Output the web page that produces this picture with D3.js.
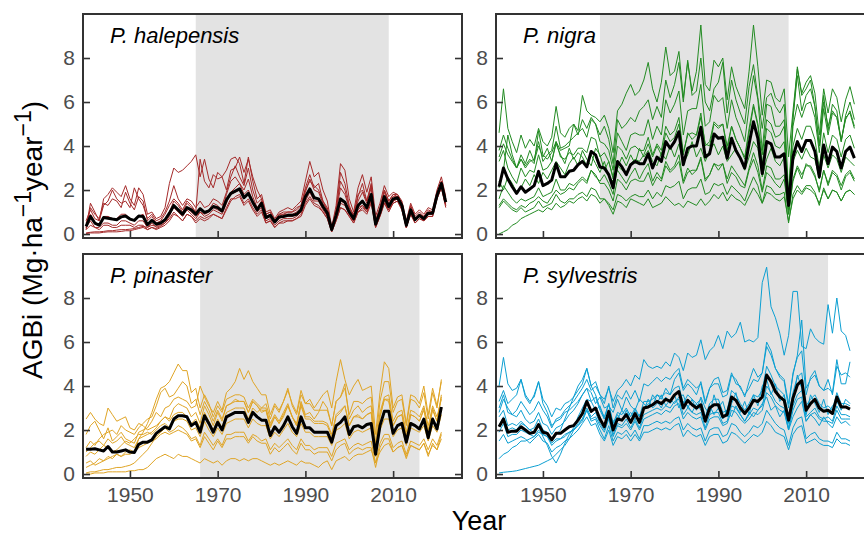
<!DOCTYPE html>
<html>
<head>
<meta charset="utf-8">
<script src="https://cdn.jsdelivr.net/npm/d3@7"></script>
<style>
  body { margin: 0; background: #fff; }
  text { font-family: "Liberation Sans", Arial, sans-serif; }
</style>
</head>
<body>
<div id="chart"></div>
<script>
// ---- data (AGBi, Mg/ha/year), one value per year ----
var halepensisStart = 1940;
var halepensisShade = [1965, 2009];
var halepensisMean = [
  0.35,0.8,0.5,0.4,0.75,0.72,0.68,0.65,0.78,0.82,
  0.68,0.62,0.82,0.8,0.42,0.62,0.45,0.5,0.65,0.95,
  1.3,1.1,0.9,1.2,1.1,0.9,1.15,0.98,1.05,1.25,
  1.2,1.05,1.55,1.85,1.95,2.05,1.65,1.85,1.45,1.1,
  1.4,0.75,0.85,0.55,0.78,0.8,0.85,0.85,0.9,1.1,
  1.7,2.05,1.65,1.6,1.25,0.95,0.2,0.85,1.6,1.45,
  1.0,0.7,1.3,1.5,1.2,1.8,0.45,1.0,1.7,1.25,
  1.6,1.65,1.3,0.4,1.1,0.65,0.85,0.7,0.95,0.95,
  1.75,2.3,1.45];
var halepensisSites = [
  [0.3,1.4,1.0,0.6,1.6,1.8,2.1,1.9,1.7,2.2, 1.6,1.3,2.1,1.8,0.9,1.0,0.7,0.8,1.2,2.3, 3.0,2.8,2.9,3.1,3.3,3.6,2.6,3.4,2.5,2.1, 2.8,2.6,2.9,3.4,3.5,3.2,2.3,3.5,2.4,1.6, 1.8,1.0,1.1,0.7,1.0,1.1,1.2,1.1,1.3,1.5, 2.4,3.3,2.6,2.8,2.0,1.5,0.3,1.3,3.2,2.9, 1.6,1.0,2.1,2.7,1.9,2.6,0.8,1.4,2.2,1.7, 1.9,1.8,1.5,0.6,1.4,0.9,1.1,0.9,1.2,1.1, 2.0,2.6,1.7],
  [0.2,1.2,0.9,0.7,1.4,1.3,1.6,1.5,1.2,1.9, 1.4,1.1,1.7,1.5,0.6,0.8,0.5,0.6,0.9,1.3, 1.6,1.4,1.1,1.5,1.3,1.0,3.4,2.4,2.1,2.7, 2.5,2.6,2.0,2.9,3.0,3.5,2.8,3.4,2.6,2.0, 1.6,0.9,1.0,0.6,0.9,0.9,1.0,1.0,1.2,1.3, 2.0,2.4,2.2,2.0,1.5,1.1,0.2,1.0,2.8,2.3, 1.3,0.8,1.7,2.3,1.5,2.3,0.6,1.2,2.0,1.5, 1.8,1.7,1.4,0.5,1.3,0.8,1.0,0.8,1.1,1.0, 1.9,2.4,1.6],
  [0.05,0.08,0.1,0.1,0.12,0.15,0.15,0.18,0.2,0.2, 0.22,0.25,0.3,0.35,0.3,0.4,0.35,0.45,0.6,0.9, 1.2,1.0,0.8,1.1,0.9,0.7,1.0,0.8,0.9,1.1, 1.0,0.9,1.4,1.9,2.1,2.3,1.8,2.0,1.5,1.1, 1.3,0.7,0.8,0.5,0.7,0.8,0.8,0.8,0.9,1.0, 1.6,2.1,1.7,1.6,1.2,0.9,0.2,0.8,1.5,1.4, 0.9,0.6,1.2,1.3,1.1,1.6,0.4,0.9,1.6,1.2, 1.5,1.6,1.2,0.3,1.0,0.6,0.8,0.6,0.9,0.9, 1.7,2.2,1.3],
  [0.02,0.05,0.05,0.05,0.08,0.1,0.1,0.1,0.12,0.15, 0.15,0.2,0.25,0.3,0.2,0.3,0.25,0.35,0.5,0.7, 1.0,0.8,0.6,0.9,0.8,0.6,0.8,0.7,0.8,0.9, 0.8,0.7,1.1,1.5,1.7,1.8,1.4,1.6,1.2,0.9, 1.1,0.5,0.6,0.3,0.5,0.5,0.6,0.6,0.7,0.8, 1.3,1.6,1.3,1.2,1.0,0.7,0.1,0.6,1.2,1.1, 0.8,0.5,1.0,1.1,0.9,1.4,0.3,0.8,1.4,1.0, 1.4,1.5,1.1,0.3,0.9,0.5,0.7,0.6,0.8,0.8, 1.6,2.1,1.2],
  [0.5,0.9,0.5,0.4,0.8,0.8,0.7,0.7,0.9,0.9, 0.7,0.6,0.8,0.9,0.4,0.6,0.4,0.5,0.6,1.0, 1.5,1.3,1.0,1.4,1.2,1.0,1.2,1.0,1.1,1.4, 1.3,1.1,1.8,2.4,2.6,2.3,2.0,2.5,1.7,1.2, 1.5,0.8,0.9,0.6,0.8,0.9,0.9,0.9,1.0,1.2, 1.9,2.5,2.0,1.9,1.4,1.1,0.3,1.0,2.1,1.8, 1.2,0.8,1.5,1.9,1.4,2.1,0.5,1.1,1.9,1.4, 1.7,1.7,1.4,0.5,1.2,0.7,0.9,0.8,1.0,1.0, 1.8,2.3,1.5],
  [0.3,0.6,0.3,0.3,0.5,0.5,0.4,0.4,0.6,0.6, 0.5,0.4,0.6,0.6,0.3,0.5,0.3,0.4,0.5,0.8, 1.3,1.1,0.9,1.2,1.0,0.8,1.0,0.9,1.0,1.2, 1.1,1.0,1.5,1.8,1.9,2.0,1.6,1.8,1.4,1.0, 1.2,0.6,0.7,0.4,0.6,0.7,0.7,0.7,0.8,1.0, 1.5,1.9,1.5,1.5,1.1,0.8,0.2,0.7,1.4,1.3, 0.9,0.6,1.1,1.3,1.0,1.6,0.4,0.9,1.5,1.1, 1.5,1.6,1.2,0.3,1.0,0.6,0.8,0.6,0.9,0.9, 1.7,2.2,1.4],
  [0.6,1.1,0.7,0.6,1.3,1.5,2.0,1.6,1.4,1.5, 1.2,2.1,1.6,1.3,0.7,0.9,0.6,0.7,1.0,1.5, 2.2,1.6,1.3,1.6,1.5,1.2,1.5,1.2,1.3,1.6, 1.5,1.3,1.9,2.6,3.1,2.6,2.2,3.0,2.0,1.4, 1.6,0.9,1.0,0.6,0.9,1.0,1.0,1.0,1.1,1.3, 2.1,2.7,2.1,2.3,1.5,1.2,0.3,1.1,2.4,2.0, 1.2,0.9,1.8,2.0,1.5,2.2,0.6,1.2,2.0,1.5, 1.8,1.8,1.4,0.5,1.2,0.7,0.9,0.7,1.0,1.0, 1.8,2.4,1.5],
  [0.2,0.4,0.3,0.2,0.4,0.4,0.3,0.3,0.4,0.4, 0.4,0.3,0.4,0.4,0.2,0.3,0.2,0.3,0.4,0.6, 0.9,0.8,0.6,0.9,0.8,0.5,0.7,0.6,0.7,0.9, 0.8,0.7,1.2,1.6,1.6,1.7,1.3,1.5,1.1,0.8, 1.0,0.5,0.6,0.3,0.5,0.6,0.6,0.6,0.7,0.9, 1.4,1.7,1.4,1.3,1.0,0.7,0.1,0.6,1.2,1.1, 0.8,0.5,1.0,1.2,1.0,1.5,0.3,0.8,1.4,1.1, 1.4,1.5,1.1,0.3,0.9,0.5,0.7,0.6,0.8,0.8, 1.6,2.1,1.3]
];

var nigraStart = 1940;
var nigraShade = [1963, 2006];
var nigraMean = [
  2.15,3.0,2.5,2.15,1.85,2.15,1.9,2.05,2.2,2.85,
  2.2,2.3,2.45,3.2,2.6,2.6,2.85,2.9,3.15,3.3,
  3.05,3.75,3.6,3.05,3.0,2.7,2.1,3.3,3.05,2.7,
  3.15,3.3,3.2,3.2,3.65,3.0,3.5,3.3,4.2,3.9,
  4.2,4.65,3.15,3.9,4.0,4.0,4.85,3.5,3.65,4.55,
  4.35,4.4,3.45,4.35,3.8,3.45,3.0,4.1,5.1,4.35,
  2.75,4.2,4.1,3.5,3.5,3.65,1.3,3.5,4.2,3.75,
  4.25,4.25,3.75,2.6,4.05,3.2,3.95,3.75,3.0,3.75,
  3.95,3.45];
var nigraSites = [
  [0.0,0.1,0.2,0.4,0.5,0.7,0.8,0.9,1.0,1.1, 1.0,1.2,1.1,1.4,1.2,1.3,1.5,1.4,1.6,1.7, 1.5,1.8,1.7,1.4,1.6,1.3,0.9,1.5,1.4,1.2, 1.6,1.5,1.4,1.3,1.6,1.2,1.3,1.4,1.7,1.5, 1.3,1.4,1.2,1.5,1.4,1.3,1.6,1.3,1.5,1.8, 1.6,1.9,1.5,1.8,1.6,1.5,1.3,1.7,2.1,1.8, 1.4,1.9,1.8,1.6,1.5,1.7,0.6,1.6,2.0,1.8, 2.1,2.0,1.8,1.4,2.0,1.6,2.0,1.9,1.5,1.9, 2.0,1.8],
  [4.6,6.6,4.8,4.2,3.7,4.5,3.9,4.3,4.0,4.8, 4.2,4.0,4.4,5.8,4.6,4.4,4.8,5.0,4.7,6.3, 5.6,5.4,5.3,5.1,5.4,4.8,3.7,5.6,5.9,6.4, 6.8,6.3,6.5,7.0,7.8,6.6,6.0,6.9,8.5,7.2, 7.4,8.3,6.2,7.8,6.5,7.4,9.5,6.8,6.5,7.9, 7.6,8.0,6.1,7.6,6.7,6.2,5.7,7.4,9.5,7.6, 5.4,7.0,6.9,6.2,6.0,6.6,3.5,5.6,7.5,6.4, 6.9,7.2,6.4,4.5,6.6,5.5,6.6,6.2,5.1,6.1, 6.7,5.9],
  [3.5,4.1,3.6,3.3,3.0,3.4,3.1,3.4,3.2,4.7, 3.6,3.4,3.7,4.2,3.8,3.9,4.0,5.0,4.5,5.2, 4.8,5.3,5.0,4.5,4.9,4.3,3.2,5.2,4.8,5.0, 5.3,5.1,5.6,5.8,6.1,5.2,5.8,5.3,7.0,6.2, 6.8,7.8,6.0,7.9,6.3,6.5,8.0,6.0,5.6,6.6, 6.9,7.8,5.5,7.0,6.1,5.5,5.0,6.7,7.7,6.2, 4.8,6.2,6.4,5.8,5.5,5.9,1.8,5.3,7.2,5.6, 6.3,6.6,5.8,4.0,6.0,4.9,5.6,5.3,4.3,5.2, 5.6,4.9],
  [3.3,3.8,3.0,2.6,2.3,3.0,2.6,2.9,2.8,3.6, 2.9,3.0,3.3,4.2,3.5,3.4,3.7,3.6,3.9,3.9, 3.7,4.4,4.3,3.5,3.7,3.3,2.6,4.0,3.8,3.4, 3.9,4.0,3.8,3.8,4.4,3.6,4.1,3.8,4.9,4.5, 4.7,5.3,3.7,4.5,4.6,4.5,5.5,4.0,4.2,5.1, 4.9,5.0,4.0,4.9,4.3,3.9,3.4,4.6,5.8,4.9, 3.2,4.8,4.6,4.0,3.9,4.2,1.5,4.0,4.8,4.3, 4.9,4.9,4.3,3.0,4.6,3.7,4.5,4.3,3.5,4.3, 4.5,3.9],
  [3.8,4.5,3.9,3.4,3.0,3.6,3.2,3.8,3.3,4.0, 3.5,3.9,3.3,4.1,3.6,3.2,3.9,3.4,3.7,3.5, 3.1,3.6,3.2,2.8,3.3,2.6,2.4,2.9,2.6,2.3, 2.7,3.0,2.5,2.9,3.2,2.4,2.8,2.5,3.3,2.9, 3.1,3.6,2.4,3.0,2.7,2.9,3.4,2.4,2.7,3.2, 2.9,3.2,2.3,2.8,2.6,2.2,2.1,2.9,3.4,2.8, 1.9,2.8,2.6,2.3,2.1,2.5,0.9,2.4,3.0,2.5, 3.2,3.0,2.6,2.0,2.9,2.2,2.8,2.6,2.0,2.6, 2.8,2.4],
  [1.6,2.2,1.9,1.6,1.4,1.6,1.5,1.6,1.7,2.1, 1.7,1.8,1.9,2.5,2.0,2.0,2.3,2.2,2.4,2.6, 2.4,2.9,2.7,2.3,2.3,2.0,1.5,2.5,2.3,2.0, 2.4,2.5,2.4,2.4,2.8,2.2,2.6,2.4,3.1,2.8, 3.0,3.3,2.3,2.8,2.9,2.9,3.5,2.5,2.7,3.2, 3.1,3.2,2.5,3.1,2.8,2.5,2.2,3.0,3.7,3.1, 2.0,3.1,3.0,2.5,2.5,2.7,0.9,2.5,3.1,2.7, 3.1,3.1,2.7,1.9,2.9,2.3,2.9,2.7,2.2,2.7, 2.9,2.5],
  [1.3,1.6,1.4,1.2,1.1,1.3,1.2,1.4,1.5,1.7, 1.5,1.4,1.7,2.0,1.8,1.9,2.1,2.0,2.3,2.5, 2.3,2.9,2.6,2.4,2.7,2.3,1.8,3.1,2.9,2.8, 3.2,3.4,3.3,3.6,4.1,3.5,4.0,3.6,4.6,4.2, 4.4,5.0,3.6,4.6,4.3,4.5,5.3,4.1,4.0,5.0, 4.8,5.0,3.8,4.9,4.3,3.9,3.5,4.8,5.9,5.0, 3.6,5.2,5.0,4.4,4.5,4.9,1.4,5.2,7.6,6.3, 6.6,7.0,5.8,4.0,6.3,4.7,5.9,5.6,4.2,5.4, 6.0,5.2],
  [2.1,2.9,4.5,3.6,3.0,3.4,3.0,3.3,3.4,4.2, 3.3,3.6,3.8,4.9,3.9,4.0,4.2,4.4,4.6,4.8, 4.4,5.2,5.0,4.2,4.1,3.8,2.9,4.6,4.2,3.8, 4.5,4.6,4.5,4.5,5.2,4.3,4.9,4.5,6.1,5.5, 5.9,6.5,4.5,5.6,5.7,5.7,6.8,4.9,5.1,6.3, 6.0,6.2,4.8,6.1,5.3,4.8,4.2,5.8,7.2,6.1, 3.8,5.9,5.8,4.9,4.9,5.2,1.6,4.9,5.9,5.3, 5.9,6.0,5.3,3.7,5.7,4.5,5.5,5.3,4.2,5.3, 5.5,4.8],
  [2.4,2.0,2.6,2.3,1.9,2.1,2.5,2.2,2.7,2.3, 2.8,2.5,2.9,3.3,3.0,2.7,3.2,3.5,3.1,3.8, 3.4,3.1,3.9,3.6,2.9,3.3,2.5,3.0,3.5,3.1, 3.6,3.2,3.9,3.5,3.8,3.3,3.1,3.7,3.4,4.0, 3.5,4.1,3.2,3.6,4.2,3.5,3.9,3.3,3.8,4.1, 3.6,4.0,3.3,3.6,3.9,3.4,2.9,3.5,4.2,3.9, 2.6,3.4,3.9,3.3,3.1,3.5,1.1,3.3,3.8,3.4, 3.9,3.5,3.4,2.5,3.6,3.0,3.6,3.4,2.8,3.5, 3.3,3.1],
  [1.2,1.5,1.3,1.1,1.0,1.2,1.0,1.1,1.2,1.5, 1.2,1.3,1.4,1.8,1.5,1.4,1.6,1.6,1.8,1.9, 1.7,2.1,2.0,1.6,1.6,1.4,1.1,1.8,1.7,1.5, 1.7,1.8,1.7,1.7,2.0,1.6,1.9,1.7,2.2,2.1, 2.2,2.4,1.6,2.0,2.1,2.1,2.5,1.8,1.9,2.3, 2.2,2.3,1.8,2.2,2.0,1.8,1.5,2.1,2.6,2.2, 1.4,2.2,2.1,1.8,1.8,1.9,0.5,1.8,2.2,1.9, 2.2,2.2,1.9,1.3,2.1,1.6,2.0,1.9,1.5,1.9, 2.0,1.8]
];

var pinasterStart = 1940;
var pinasterShade = [1966, 2016];
var pinasterMean = [
  1.13,1.13,1.15,1.1,1.05,1.25,1.0,1.0,1.05,1.1,
  1.0,0.98,1.35,1.45,1.45,1.55,1.85,2.0,2.15,2.05,
  2.5,2.65,2.65,2.6,2.2,2.35,1.9,2.65,2.3,1.9,
  2.35,2.0,2.6,2.7,2.8,2.8,2.8,2.35,2.8,2.6,
  2.45,2.45,1.75,2.15,1.9,2.2,2.6,2.15,1.85,2.6,
  2.1,2.1,1.9,1.9,1.9,1.9,1.45,2.2,2.35,2.6,
  1.8,2.15,2.2,2.1,2.25,2.3,0.9,2.2,2.85,2.85,
  1.85,2.2,2.3,1.45,2.3,2.2,2.05,2.5,1.65,2.5,
  2.05,3.05];
var pinasterSites = [
  [0.0,0.0,0.05,0.05,0.05,0.1,0.1,0.1,0.1,0.1, 0.15,0.15,0.2,0.2,0.3,0.5,0.7,0.8,0.9,0.8, 0.7,0.9,0.8,0.8,0.7,0.6,0.5,0.7,0.6,0.5, 0.6,0.4,0.6,0.7,0.7,0.6,0.7,0.6,0.7,0.7, 0.6,0.5,0.4,0.5,0.4,0.5,0.6,0.5,0.4,0.6, 0.5,0.5,0.4,0.3,0.5,0.6,0.2,0.6,0.7,0.8, 0.6,0.8,0.9,0.9,1.0,1.1,0.5,1.0,1.3,1.4, 1.0,1.2,1.3,0.8,1.3,1.2,1.1,1.4,0.9,1.3, 1.1,1.6],
  [0.05,0.1,0.1,0.15,0.2,0.2,0.25,0.3,0.3,0.35, 0.4,0.5,0.7,0.9,1.1,1.4,1.7,1.9,2.1,1.9, 2.0,2.2,2.1,1.9,1.6,1.7,1.3,1.9,1.6,1.3, 1.6,1.3,1.8,1.8,1.9,1.9,1.9,1.5,1.8,1.7, 1.5,1.6,1.1,1.4,1.2,1.4,1.6,1.3,1.1,1.6, 1.3,1.3,1.1,1.2,1.2,1.2,0.8,1.4,1.5,1.6, 1.1,1.3,1.4,1.3,1.4,1.5,0.5,1.4,1.8,1.8, 1.2,1.4,1.5,0.9,1.5,1.4,1.3,1.6,1.1,1.6, 1.3,1.9],
  [0.3,0.4,0.5,0.7,0.6,0.8,0.7,0.9,0.8,1.0, 1.1,1.0,1.6,1.9,2.3,2.8,3.4,3.9,4.0,4.2, 4.6,5.0,4.7,4.7,3.7,3.9,3.0,3.6,3.2,2.6, 3.1,2.8,3.4,3.5,3.6,3.6,3.5,3.0,3.4,3.2, 3.0,3.0,2.3,2.7,2.4,2.8,3.2,2.6,2.3,3.2, 2.6,2.6,2.4,2.4,2.4,2.3,1.8,2.7,2.9,3.1, 2.2,2.6,2.7,2.5,2.7,2.8,1.1,2.6,3.4,3.3, 2.2,2.6,2.7,1.7,2.7,2.6,2.4,2.9,1.9,2.9, 2.4,3.5],
  [2.5,2.8,2.5,2.3,2.2,3.0,2.7,2.4,2.5,2.6, 2.1,2.0,2.3,2.2,2.0,2.1,2.2,2.4,2.6,2.5, 3.0,3.2,3.1,3.0,2.6,2.8,2.3,3.1,2.7,2.2, 2.8,2.4,3.1,3.2,3.4,3.3,3.3,2.8,3.3,3.1, 2.9,2.9,2.1,2.6,2.3,2.6,3.1,2.6,2.2,3.1, 2.5,2.5,2.3,2.3,2.3,2.2,1.7,2.6,2.8,3.1, 2.2,2.6,2.6,2.5,2.7,2.8,1.1,2.6,3.4,3.4, 2.2,2.6,2.7,1.7,2.7,2.6,2.4,3.0,2.0,3.0, 2.4,3.6],
  [1.8,2.2,2.4,2.0,1.6,2.1,1.5,1.7,1.9,1.6, 1.5,1.4,1.9,2.0,2.1,2.4,2.8,2.6,3.0,3.1, 3.4,3.5,3.4,3.3,3.0,3.1,4.0,3.5,3.1,2.8, 3.3,2.9,3.7,3.9,4.2,4.8,4.3,4.7,4.2,3.9, 3.6,3.6,2.7,3.2,2.9,3.3,3.8,3.2,2.8,3.8, 3.2,3.2,2.9,2.9,2.9,2.9,2.2,3.3,3.5,3.9, 2.7,3.3,3.3,3.2,3.4,3.5,1.4,3.3,4.2,4.2, 2.8,3.3,3.4,2.2,3.4,3.3,3.0,3.7,2.5,3.7, 3.0,4.3],
  [1.0,1.2,1.4,1.5,1.3,1.6,1.4,1.5,1.7,1.4, 1.3,1.2,1.6,1.7,1.8,1.9,2.1,2.4,2.6,2.4, 2.7,2.8,2.8,2.6,2.3,2.5,2.1,2.8,2.4,2.0, 2.5,2.1,2.8,2.9,3.0,3.0,3.0,2.5,3.0,2.8, 3.0,3.2,2.5,3.1,2.8,3.3,3.9,3.1,2.7,3.6, 3.2,3.4,3.0,3.3,3.6,3.8,3.0,4.2,5.2,4.3, 3.6,4.0,4.3,3.8,3.9,4.0,1.8,3.7,5.1,4.8, 3.0,3.5,3.6,2.3,3.6,3.5,3.2,4.0,2.7,3.9, 3.1,4.2],
  [0.8,1.0,0.9,1.1,1.3,1.2,1.0,1.1,1.3,1.5, 1.4,1.6,1.8,1.8,1.9,1.8,2.0,2.2,2.3,2.1, 2.4,2.5,2.5,2.4,2.0,2.1,1.7,2.4,2.0,1.7, 2.1,1.8,2.3,2.4,2.5,2.5,2.5,2.1,2.5,2.3, 2.2,2.2,1.6,1.9,1.7,2.0,2.3,1.9,1.7,2.3, 1.9,1.9,1.7,1.7,1.7,1.7,1.3,2.0,2.1,2.3, 1.6,1.9,2.0,1.9,2.0,2.1,0.8,2.0,2.5,2.5, 1.7,2.0,2.1,1.3,2.1,2.0,1.9,2.2,1.5,2.2, 1.9,2.7],
  [1.2,1.5,1.3,1.6,1.8,1.9,2.0,1.8,2.2,2.0, 1.9,1.8,2.1,2.3,2.5,2.6,3.1,3.7,3.9,3.5, 3.6,3.9,4.2,4.0,3.2,3.4,2.7,3.3,2.9,2.4, 2.9,2.5,3.1,3.2,3.3,3.3,3.3,2.8,3.3,3.1, 2.8,2.9,2.2,2.6,2.3,2.7,3.1,2.6,2.2,3.3, 2.7,2.8,2.5,2.8,3.3,3.0,2.2,3.3,3.5,4.1, 2.5,2.9,3.1,2.8,3.0,3.1,1.2,2.8,3.5,3.6, 2.4,2.8,2.9,1.9,2.9,2.8,2.6,3.1,2.2,3.1, 2.6,3.4],
  [0.5,0.6,0.4,0.5,0.6,0.7,0.8,0.9,0.8,0.9, 0.9,1.0,1.2,1.3,1.4,1.5,1.6,1.8,1.9,1.8, 1.9,2.0,1.9,1.8,1.5,1.6,1.2,1.7,1.4,1.1, 1.5,1.2,1.6,1.6,1.7,1.7,1.7,1.4,1.7,1.5, 1.4,1.4,0.9,1.2,1.0,1.2,1.4,1.1,0.9,1.4, 1.1,1.1,0.9,1.0,1.0,1.0,0.6,1.1,1.3,1.4, 0.9,1.1,1.2,1.1,1.2,1.2,0.3,1.2,1.6,1.6, 1.0,1.2,1.3,0.7,1.3,1.2,1.1,1.4,0.8,1.4, 1.1,1.8]
];

var sylvestrisStart = 1940;
var sylvestrisShade = [1963, 2015];
var sylvestrisMean = [
  2.15,2.5,1.9,1.95,1.95,2.15,2.0,1.85,1.9,2.25,
  1.9,1.85,1.55,1.85,1.85,2.0,2.15,2.2,2.45,2.75,
  3.3,2.85,3.0,2.5,2.15,2.85,2.0,2.5,2.45,2.7,
  2.35,2.75,2.35,3.0,3.05,3.15,3.3,3.2,3.4,3.3,
  3.6,3.75,3.0,3.35,3.15,3.0,3.15,2.4,3.0,3.15,
  3.15,2.6,2.7,3.5,3.35,3.0,2.75,3.0,3.35,3.3,
  3.5,4.5,4.2,3.75,3.5,3.35,2.45,3.45,4.05,4.25,
  2.9,3.2,3.4,3.0,2.85,2.9,2.75,3.5,3.05,3.05,
  2.95];
var sylvestrisSites = [
  [2.8,3.4,3.0,2.7,2.9,3.3,3.0,2.7,2.9,3.3, 2.9,2.6,2.1,2.5,2.6,2.9,3.1,3.3,3.6,3.9, 4.3,3.8,4.0,3.6,3.4,3.9,3.3,3.8,4.0,4.3, 4.0,4.5,4.3,5.2,4.9,4.8,4.9,4.8,5.1,4.9, 5.5,5.3,4.7,5.5,5.3,5.4,6.1,5.2,5.6,5.8, 6.3,5.7,6.5,6.2,6.4,6.9,6.0,6.1,6.0,6.2, 8.7,9.4,7.6,7.1,6.4,5.4,6.3,8.3,8.3,5.8, 5.7,6.6,6.2,6.0,5.9,7.7,6.4,8.0,6.5,6.3, 5.6],
  [4.0,5.3,4.1,3.8,3.9,4.3,3.6,3.3,3.5,4.2, 3.4,3.1,2.6,3.0,2.9,3.2,3.3,3.5,3.8,4.1, 4.8,4.0,4.2,3.6,3.2,4.0,3.0,3.6,3.4,3.8, 3.4,3.8,3.3,4.1,4.0,4.2,4.4,4.2,4.4,4.3, 4.6,4.8,3.9,4.3,4.1,3.9,4.1,3.2,3.9,4.1, 4.1,3.5,3.6,4.5,4.3,3.9,3.6,3.9,4.3,4.2, 4.6,5.8,5.4,4.8,4.5,4.3,3.2,4.5,5.4,7.0, 3.9,4.3,4.5,4.0,3.8,3.9,3.7,5.2,4.1,4.1, 5.1],
  [0.05,0.08,0.1,0.12,0.15,0.2,0.25,0.3,0.35,0.4, 0.5,0.6,0.7,0.9,1.1,1.3,1.6,2.0,2.3,2.5, 3.0,2.6,2.8,2.3,2.0,2.6,1.8,2.3,2.2,2.5, 2.1,2.5,2.1,2.7,2.8,2.9,3.0,2.9,3.1,3.0, 3.3,3.4,2.7,3.0,2.8,2.7,2.8,2.1,2.7,2.8, 2.8,2.3,2.4,3.1,3.0,2.7,2.4,2.7,3.0,2.9, 3.1,4.0,3.7,3.3,3.1,3.0,2.1,3.1,3.6,3.8, 2.6,2.8,3.0,2.6,2.5,2.6,2.4,3.1,2.7,2.7, 2.6],
  [0.7,0.9,1.0,1.2,1.3,1.5,1.5,1.6,1.7,1.9, 1.8,1.7,1.4,1.6,1.6,1.7,1.9,2.0,2.2,2.4, 2.9,2.5,2.6,2.2,1.9,2.5,1.7,2.2,2.1,2.3, 2.0,2.4,2.0,2.5,2.6,2.7,2.8,2.7,2.9,2.8, 3.1,3.2,2.5,2.8,2.6,2.5,2.6,2.0,2.5,2.6, 2.6,2.2,2.3,2.9,2.8,2.5,2.3,2.5,2.8,2.7, 2.9,3.7,3.5,3.1,2.9,2.8,2.0,2.9,3.4,3.5, 2.4,2.7,2.8,2.5,2.4,2.4,2.3,2.9,2.5,2.5, 2.5],
  [2.6,2.9,2.2,2.3,2.2,2.4,2.2,2.0,1.9,2.2, 1.7,1.3,0.8,0.5,0.9,1.4,1.8,2.1,2.6,3.0, 3.4,3.3,2.9,3.1,2.5,2.7,2.4,2.5,2.9,2.6, 2.8,2.5,2.7,2.9,3.4,3.0,3.2,3.6,3.1,3.4, 3.2,3.5,3.6,3.0,3.4,2.9,3.5,3.0,2.7,3.6, 3.0,3.3,2.6,3.2,3.7,2.8,3.3,2.7,3.6,3.1, 4.0,4.3,3.6,4.1,3.3,3.6,2.3,3.3,4.5,3.9, 2.7,3.6,3.2,2.8,3.4,2.7,3.1,3.3,2.9,3.4, 3.2],
  [1.9,2.3,1.7,1.8,1.8,2.0,1.9,1.8,1.7,2.0, 1.8,1.7,1.3,1.5,1.6,1.8,1.9,2.0,2.2,2.5, 2.9,2.4,2.5,2.0,1.6,2.2,1.5,1.9,1.8,2.0, 1.7,2.0,1.6,2.2,2.2,2.3,2.4,2.3,2.4,2.3, 2.5,2.6,2.0,2.3,2.1,2.0,2.1,1.5,2.0,2.1, 2.1,1.7,1.8,2.3,2.2,1.9,1.7,1.9,2.2,2.1, 2.3,2.9,2.6,2.3,2.1,2.0,1.3,2.1,2.5,2.6, 1.6,1.8,1.9,1.6,1.5,1.5,1.4,1.9,1.6,1.6, 1.5],
  [3.0,3.6,2.8,2.7,2.6,2.9,2.5,2.3,2.4,2.8, 2.3,2.2,1.8,2.1,2.2,2.4,2.7,2.9,3.2,3.6, 3.9,3.7,3.2,3.5,3.0,3.1,2.8,3.4,2.9,3.5, 3.1,2.9,3.4,3.2,3.0,3.6,3.3,3.0,3.5,3.2, 3.6,3.0,3.3,3.1,2.8,3.2,2.9,2.5,3.1,2.7, 3.0,2.5,2.9,2.6,3.1,2.7,2.4,2.8,2.6,2.9, 3.2,3.5,2.9,3.1,2.6,2.9,2.0,2.6,3.0,3.3, 2.4,2.7,2.5,2.2,2.6,2.3,2.1,2.6,2.3,2.4, 2.2],
  [1.5,1.8,1.4,1.5,1.6,1.7,1.6,1.4,1.6,1.8, 1.5,1.4,1.0,1.2,1.3,1.5,1.6,1.8,2.0,2.3, 2.6,2.2,2.3,1.8,1.5,2.0,1.3,1.7,1.6,1.8, 1.5,1.8,1.5,1.9,1.9,2.0,2.1,2.0,2.1,2.0, 2.2,2.3,1.7,2.0,1.8,1.7,1.8,1.3,1.7,1.8, 1.8,1.4,1.5,1.9,1.8,1.6,1.4,1.6,1.8,1.7, 1.9,2.4,2.2,1.9,1.8,1.7,1.1,1.8,2.1,2.2, 1.4,1.5,1.6,1.4,1.3,1.3,1.2,1.6,1.4,1.4, 1.3],
  [2.2,2.6,2.0,2.1,2.0,2.3,2.2,2.0,2.1,2.5, 2.0,1.9,1.5,1.8,2.0,2.5,3.0,3.5,4.0,4.3, 4.8,4.0,3.6,3.0,2.6,3.2,2.2,2.7,2.4,2.9, 2.4,2.9,2.6,3.0,3.2,3.1,3.6,3.4,3.9,3.6, 4.3,4.6,3.8,4.1,3.9,3.6,4.2,3.3,3.9,4.3, 4.4,3.7,3.8,4.6,4.1,4.0,3.5,4.2,4.8,4.4, 4.6,6.0,5.6,4.8,4.4,4.2,3.0,4.6,5.3,5.6, 3.6,4.4,4.7,4.0,3.8,4.3,3.6,4.9,4.5,4.6, 4.4],
  [3.3,3.8,3.2,3.4,3.6,4.3,3.5,3.2,3.6,4.2, 3.2,2.8,2.2,2.4,2.5,2.8,2.9,3.1,3.3,3.6, 3.9,3.3,3.5,2.9,2.5,3.2,2.3,2.8,2.7,3.0, 2.6,3.0,2.6,3.3,3.3,3.4,3.6,3.5,3.7,3.6, 3.9,4.0,3.2,3.6,3.4,3.2,3.4,2.6,3.2,3.4, 3.4,2.8,2.9,3.8,3.6,3.2,2.9,3.2,3.6,3.5, 3.8,4.9,4.5,4.0,3.8,3.6,2.6,3.7,4.4,4.6, 3.1,3.4,3.6,3.2,3.0,3.1,2.9,3.7,3.2,3.2, 3.1]
];

var speciesNames = ["P. halepensis", "P. nigra", "P. pinaster", "P. sylvestris"];
var speciesColors = ["#a52a2a", "#228b22", "#e0a526", "#0c9fd2"];
var yTicks = [0, 2, 4, 6, 8];
var xTicks = [1950, 1970, 1990, 2010];

// ---- layout ----
var panel_w = 379, panel_h = 224;
var col_x = [83, 496], row_y = [14, 254];

var panels = [
  {name: speciesNames[0], color: speciesColors[0], start: halepensisStart, shade: halepensisShade, mean: halepensisMean, sites: halepensisSites, col: 0, row: 0},
  {name: speciesNames[1], color: speciesColors[1], start: nigraStart, shade: nigraShade, mean: nigraMean, sites: nigraSites, col: 1, row: 0},
  {name: speciesNames[2], color: speciesColors[2], start: pinasterStart, shade: pinasterShade, mean: pinasterMean, sites: pinasterSites, col: 0, row: 1},
  {name: speciesNames[3], color: speciesColors[3], start: sylvestrisStart, shade: sylvestrisShade, mean: sylvestrisMean, sites: sylvestrisSites, col: 1, row: 1}
];

var svg = d3.select("#chart")
  .append("svg")
    .attr("width", 864)
    .attr("height", 535);

var x = d3.scaleLinear().domain([1939.3, 2025.7]).range([0, panel_w]);
var y = d3.scaleLinear().domain([-0.18, 10]).range([panel_h, 0]);

panels.forEach(function(p, i) {
  var g = svg.append("g")
    .attr("transform", "translate(" + col_x[p.col] + "," + row_y[p.row] + ")");

  g.append("clipPath").attr("id", "clip" + i)
    .append("rect").attr("width", panel_w).attr("height", panel_h);

  // shaded period
  g.append("rect")
    .attr("x", x(p.shade[0]))
    .attr("width", x(p.shade[1]) - x(p.shade[0]))
    .attr("height", panel_h)
    .attr("fill", "#e3e3e3");

  var line = d3.line()
    .x(function(d, j) { return x(p.start + j); })
    .y(function(d) { return y(d); });

  var plot = g.append("g").attr("clip-path", "url(#clip" + i + ")");

  plot.selectAll(".site")
    .data(p.sites)
    .enter()
    .append("path")
      .attr("class", "site")
      .attr("d", line)
      .attr("fill", "none")
      .attr("stroke", p.color)
      .attr("stroke-width", 1);

  plot.append("path")
    .attr("d", line(p.mean))
    .attr("fill", "none")
    .attr("stroke", "#000")
    .attr("stroke-width", 3)
    .attr("stroke-linejoin", "round");

  // axes, ticks point inward
  var yl = g.append("g")
    .call(d3.axisLeft(y).tickValues(yTicks).tickSize(-7).tickPadding(8));
  var yr = g.append("g").attr("transform", "translate(" + panel_w + ",0)")
    .call(d3.axisRight(y).tickValues(yTicks).tickSize(-7).tickFormat(""));
  var xb = g.append("g").attr("transform", "translate(0," + panel_h + ")")
    .call(d3.axisBottom(x).tickValues(xTicks).tickSize(-7).tickPadding(9).tickFormat(p.row == 1 ? d3.format("d") : ""));

  [yl, yr, xb].forEach(function(a) {
    a.select(".domain").remove();
    a.selectAll("line").attr("stroke", "#333").attr("stroke-width", 1.6);
    a.selectAll("text")
      .attr("font-size", "21px")
      .attr("fill", "#4d4d4d")
      .style("font-family", "'Liberation Sans', Arial, sans-serif");
  });

  g.append("rect")
    .attr("width", panel_w)
    .attr("height", panel_h)
    .attr("fill", "none")
    .attr("stroke", "#333")
    .attr("stroke-width", 2);

  g.append("text")
    .attr("x", 27)
    .attr("y", 29)
    .attr("font-size", "22px")
    .attr("font-style", "italic")
    .attr("fill", "#000")
    .text(p.name);
});

// axis titles
svg.append("text")
  .attr("x", 479)
  .attr("y", 530)
  .attr("text-anchor", "middle")
  .attr("font-size", "27px")
  .attr("fill", "#000")
  .text("Year");

var ylab = svg.append("text")
  .attr("transform", "translate(42,240) rotate(-90)")
  .attr("text-anchor", "middle")
  .attr("font-size", "28px")
  .attr("fill", "#000");
ylab.append("tspan").text("AGBi (Mg\u00b7ha");
ylab.append("tspan").attr("dy", -11).attr("font-size", "23px").text("\u22121");
ylab.append("tspan").attr("dy", 11).text("year");
ylab.append("tspan").attr("dy", -11).attr("font-size", "23px").text("\u22121");
ylab.append("tspan").attr("dy", 11).text(")");
</script>
</body>
</html>
